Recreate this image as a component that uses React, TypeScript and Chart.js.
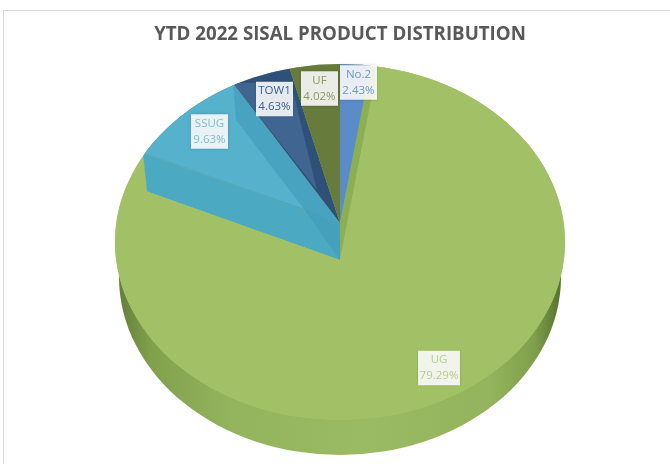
import React, { useEffect, useRef } from "react";
import { Chart, registerables } from "chart.js";

Chart.register(...registerables);

const titleText = "YTD 2022 SISAL PRODUCT DISTRIBUTION";
const categories = ["No.2", "UG", "SSUG", "TOW1", "UF"];
const shares = [2.43, 79.29, 9.63, 4.63, 4.02];
const sliceColors = ["#5B8CC8", "#A2C167", "#47A3C0", "#2E5079", "#667B3C"];
const labelColors = ["#6F97C9", "#B9CB92", "#7FBDD2", "#3F5F88", "#8A9A5E"];

// layout of the tilted pie
const CX = 340;
const RIM_Y = 242;
const RX = 225;
const RY = 178;
const APEX_Y = 223;
const UG_APEX_Y = 260;
const BASE_Y = 277;
const BASE_RX = 221;
const SCALE = 1.25;
const labelCenters = [
  [358.5, 82.5],
  [439, 368],
  [209.5, 131.5],
  [274.5, 99],
  [319.5, 88.5],
];

const ray = (ax: number, ay: number, a: number, t: number): [number, number] => [
  ax + t * RX * Math.cos(a),
  ay + t * RY * Math.sin(a),
];

const poly = (ctx: CanvasRenderingContext2D, pts: number[][], color: string) => {
  ctx.beginPath();
  pts.forEach((p, i) => (i ? ctx.lineTo(p[0], p[1]) : ctx.moveTo(p[0], p[1])));
  ctx.closePath();
  ctx.fillStyle = color;
  ctx.fill();
};

const pie3d = {
  id: "pie3d",
  beforeDraw(chart: any) {
    const { ctx, width, height } = chart;
    ctx.save();
    ctx.fillStyle = "#ffffff";
    ctx.fillRect(0, 0, width, height);
    ctx.strokeStyle = "#DCDCDC";
    ctx.lineWidth = 1;
    ctx.strokeRect(3.5, 10.5, width + 10, height + 10);
    ctx.restore();
  },
  beforeDatasetDraw(chart: any, args: any) {
    const { ctx } = chart;
    const arcs = args.meta.data;
    const [no2, ug, ssug, tow, uf] = arcs;

    const drawArc = (arc: any, apexY: number) => {
      ctx.save();
      ctx.translate(CX, apexY);
      ctx.scale(SCALE, (SCALE * RY) / RX);
      ctx.translate(-arc.x, -arc.y);
      arc.draw(ctx);
      ctx.restore();
    };

    ctx.save();
    // side of the disc
    const grad = ctx.createLinearGradient(CX - BASE_RX, 0, CX + BASE_RX, 0);
    grad.addColorStop(0, "#627F3A");
    grad.addColorStop(0.07, "#80A04C");
    grad.addColorStop(0.25, "#93B35D");
    grad.addColorStop(0.55, "#9BBA64");
    grad.addColorStop(0.84, "#93B35C");
    grad.addColorStop(0.94, "#7F9F4B");
    grad.addColorStop(1, "#56722F");
    ctx.beginPath();
    ctx.ellipse(CX, BASE_Y, BASE_RX, RY, 0, 0, Math.PI * 2);
    ctx.fillStyle = grad;
    ctx.fill();

    // top surface
    ctx.beginPath();
    ctx.ellipse(CX, RIM_Y, RX, RY, 0, 0, Math.PI * 2);
    ctx.fillStyle = sliceColors[1];
    ctx.fill();
    ctx.clip();

    // cut walls
    const leftA = ug.endAngle;
    poly(
      ctx,
      [
        [CX, APEX_Y],
        ray(CX, APEX_Y, leftA, 0.96),
        ray(CX, UG_APEX_Y, leftA, 0.94),
        [CX, UG_APEX_Y],
      ],
      "#4BA9C2"
    );
    poly(
      ctx,
      [
        [CX, APEX_Y],
        [CX, UG_APEX_Y],
        ray(CX, UG_APEX_Y, ug.startAngle, 1.3),
        ray(CX, APEX_Y, ug.startAngle, 1.3),
      ],
      "#8CAF55"
    );

    drawArc(ug, UG_APEX_Y);
    drawArc(no2, APEX_Y);
    drawArc(ssug, APEX_Y);
    drawArc(tow, APEX_Y);
    drawArc(uf, APEX_Y);

    // lit facets of the cut slices
    const A: [number, number] = [CX - 36, APEX_Y - 14];
    poly(ctx, [A, [CX, APEX_Y], [CX, UG_APEX_Y]], "#45A0BC");
    const sEnd = ssug.endAngle;
    const sMid = (ssug.startAngle + ssug.endAngle) / 2;
    poly(
      ctx,
      [
        A,
        ray(A[0], A[1], sEnd, 0.585),
        ray(CX, APEX_Y, sEnd, 0.92),
        ray(CX, APEX_Y, sEnd, 1.4),
        ray(CX, APEX_Y, sMid, 1.6),
        ray(CX, APEX_Y, ssug.startAngle, 1.4),
      ],
      "#56B1CD"
    );
    poly(
      ctx,
      [
        ray(CX, APEX_Y, tow.startAngle, 0.92),
        [CX - 49, APEX_Y - 140],
        [CX - 23, APEX_Y - 33],
      ],
      "#3F6590"
    );
    ctx.restore();
    return false;
  },
  afterDatasetsDraw(chart: any) {
    const { ctx } = chart;
    ctx.save();
    ctx.textAlign = "center";
    ctx.textBaseline = "middle";
    ctx.font = '11.5px "Open Sans"';
    categories.forEach((name, i) => {
      const [x, y] = labelCenters[i];
      const pct = shares[i].toFixed(2) + "%";
      const w = Math.max(ctx.measureText(pct).width + 3, 37);
      const h = 34.5;
      ctx.save();
      ctx.shadowColor = "rgba(0,0,0,0.18)";
      ctx.shadowBlur = 3;
      ctx.fillStyle = "rgba(255,255,255,0.88)";
      ctx.fillRect(x - w / 2, y - h / 2, w, h);
      ctx.restore();
      ctx.fillStyle = labelColors[i];
      ctx.fillText(name, x, y - 8);
      ctx.fillText(pct, x, y + 8);
    });
    ctx.restore();
  },
};

export default function App() {
  const ref = useRef<HTMLCanvasElement | null>(null);
  useEffect(() => {
    const chart = new Chart(ref.current as HTMLCanvasElement, {
      type: "pie",
      data: {
        labels: categories,
        datasets: [
          {
            data: shares,
            backgroundColor: sliceColors,
            borderWidth: 0,
          },
        ],
      },
      options: {
        responsive: false,
        animation: false,
        radius: RX,
        layout: { padding: { left: 10 } },
        plugins: {
          legend: { display: false },
          tooltip: { enabled: false },
          title: {
            display: true,
            fullSize: false,
            text: titleText,
            color: "#595959",
            font: { family: '"Open Sans"', size: 18.7, weight: "bold" },
            padding: { top: 23, bottom: 8 },
          },
        },
      },
      plugins: [pie3d],
    } as any);
    return () => chart.destroy();
  }, []);
  return (
    <div style={{ position: "fixed", left: 0, top: 0, width: 670, height: 464, background: "#fff" }}>
      <canvas ref={ref} width={670} height={464} style={{ display: "block", filter: "blur(0.35px)" }} />
    </div>
  );
}
